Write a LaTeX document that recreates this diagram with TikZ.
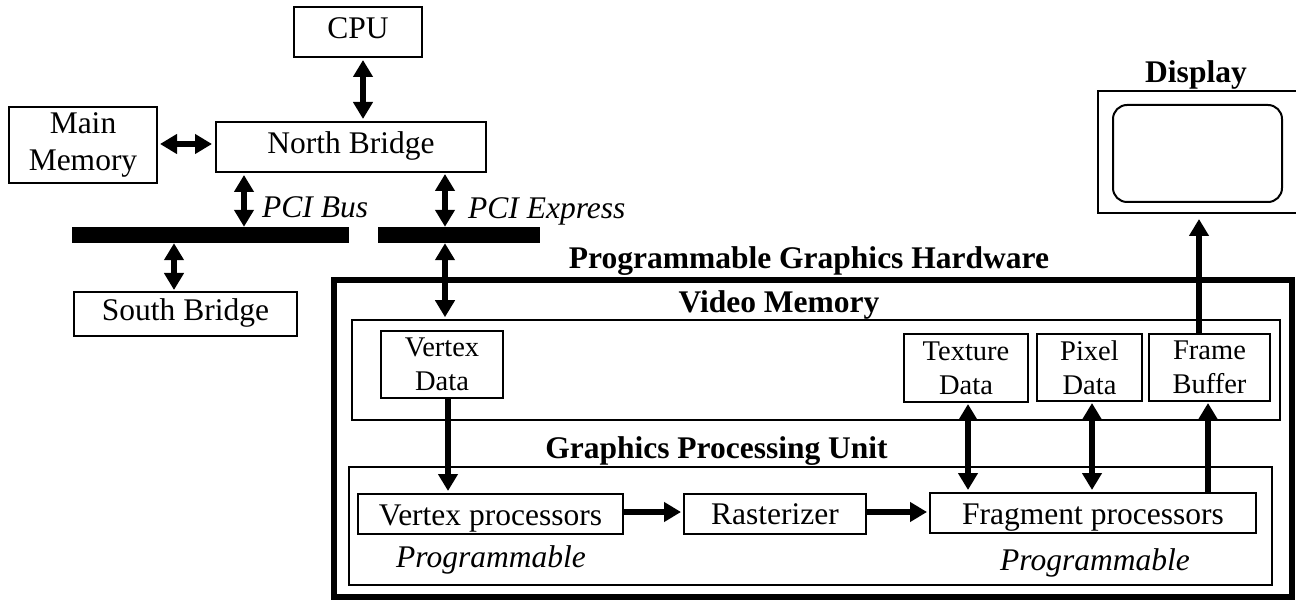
\documentclass[tikz,border=0pt]{standalone}
\usepackage{fontspec}
\setmainfont{Liberation Serif}
\usetikzlibrary{arrows.meta}

\begin{document}
\begin{tikzpicture}[x=1pt, y=-1pt,
    box/.style={draw, line width=2pt, inner sep=0pt, font=\fontsize{31.5}{37.8}\selectfont, text height=22pt, text depth=8pt},
    proc/.style={box, minimum height=40pt, text depth=0pt},
    twoline/.style={draw, line width=2pt, inner sep=0pt, align=center},
    unit/.style={draw, line width=1.6pt, inner sep=0pt},
    bus/.style={fill=black, inner sep=0pt, minimum height=16pt},
    title/.style={anchor=base, inner sep=0pt, font=\fontsize{31.5}{37.8}\selectfont\bfseries},
    note/.style={anchor=base, inner sep=0pt, font=\fontsize{31.5}{37.8}\selectfont\itshape},
    link/.style={line width=6.5pt, -{Triangle[length=17pt, width=19pt]}},
    dlink/.style={line width=6.5pt, {Triangle[length=17pt, width=19pt]}-{Triangle[length=17pt, width=19pt]}}]
    \useasboundingbox (0, 0) rectangle (1296, 601);

    %Nodes
    \node[box, minimum width=128, minimum height=50] at (358, 32) (cpu) {CPU};
    \node[twoline, font=\fontsize{31.5}{37.8}\selectfont, minimum width=148, minimum height=76] at (83, 145) (mem) {Main\\Memory};
    \node[box, minimum width=270, minimum height=50] at (351, 147) (nb) {North Bridge};
    \node[bus, minimum width=277] at (210.5, 235) (pcibus) {};
    \node[bus, minimum width=162] at (459, 235) (pcie) {};
    \node[box, minimum width=223, minimum height=44] at (185.5, 314) (sb) {South Bridge};

    \node[note, anchor=base west] at (262, 218) (buslabel) {PCI Bus};
    \node[note, anchor=base west] at (468, 219) (pcielabel) {PCI Express};

    \node[draw, line width=2pt, inner sep=0pt, minimum width=201, minimum height=122] at (1198.5, 152) (disp) {};
    \node[draw, line width=2pt, rounded corners=14pt, inner sep=0pt, minimum width=169, minimum height=97] at (1197.5, 153.5) (screen) {};
    \node[title] at (1196, 83) (displabel) {Display};

    \node[draw, line width=6pt, inner sep=0pt, minimum width=958, minimum height=317] at (813, 438.5) (hw) {};
    \node[title] at (809, 269) (hwlabel) {Programmable Graphics Hardware};

    \node[unit, minimum width=928, minimum height=100] at (816, 370) (vmem) {};
    \node[title] at (779, 313) (vmemlabel) {Video Memory};
    \node[twoline, font=\fontsize{28.5}{34.2}\selectfont, minimum width=122, minimum height=67] at (442, 364.5) (vd) {Vertex\\Data};
    \node[twoline, font=\fontsize{28.5}{34.2}\selectfont, minimum width=124, minimum height=68] at (966, 368) (tex) {Texture\\Data};
    \node[twoline, font=\fontsize{28.5}{34.2}\selectfont, minimum width=105, minimum height=67] at (1089.5, 367.5) (pix) {Pixel\\Data};
    \node[twoline, font=\fontsize{28.5}{34.2}\selectfont, minimum width=121, minimum height=67] at (1209.5, 367.5) (fb) {Frame\\Buffer};

    \node[unit, minimum width=923, minimum height=118] at (810.5, 526) (gpu) {};
    \node[title] at (716.5, 458) (gpulabel) {Graphics Processing Unit};
    \node[proc, minimum width=265] at (490.5, 514) (vp) {Vertex processors};
    \node[proc, minimum width=182] at (775, 513.5) (rast) {Rasterizer};
    \node[proc, minimum width=326] at (1093, 513) (fp) {Fragment processors};
    \node[note] at (491, 567) (vpnote) {Programmable};
    \node[note] at (1095, 570) (fpnote) {Programmable};

    %Lines
    \draw[dlink, shorten <=2pt, shorten >=2pt] ([xshift=5]cpu.south) -- ([xshift=5]cpu.south |- nb.north);
    \draw[dlink, shorten <=2pt, shorten >=3pt] ([yshift=1]mem.east) -- ([yshift=1]mem.east -| nb.west);
    \draw[dlink, shorten <=2pt] ([xshift=-107]nb.south) -- ([xshift=-107]nb.south |- pcibus.north);
    \draw[dlink, shorten >=1pt] ([xshift=-11.5]sb.north |- pcibus.south) -- ([xshift=-11.5]sb.north);
    \draw[dlink, shorten <=1pt] ([xshift=94]nb.south) -- ([xshift=94]nb.south |- pcie.north);
    \draw[dlink, shorten >=2pt] ([xshift=-14]pcie.south) -- ([xshift=-14]pcie.south |- vmem.north);
    \draw[link, shorten >=2pt] ([xshift=6]vd.south) -- ([xshift=6]vd.south |- vp.north);
    \draw[link, shorten >=2pt] ([yshift=2]vp.east) -- ([yshift=2]vp.east -| rast.west);
    \draw[link, shorten >=2pt] ([yshift=1.5]rast.east) -- ([yshift=1.5]rast.east -| fp.west);
    \draw[dlink, shorten <=1pt, shorten >=2pt] ([xshift=2]tex.south) -- ([xshift=2]tex.south |- fp.north);
    \draw[dlink, shorten <=1pt, shorten >=2pt] ([xshift=2.5]pix.south) -- ([xshift=2.5]pix.south |- fp.north);
    \draw[link, shorten >=1pt] ([xshift=-1.5]fb.south |- fp.north) -- ([xshift=-1.5]fb.south);
    \draw[link, shorten >=5pt] ([xshift=-10.5]fb.north) -- ([xshift=-10.5]fb.north |- disp.south);
\end{tikzpicture}
\end{document}
